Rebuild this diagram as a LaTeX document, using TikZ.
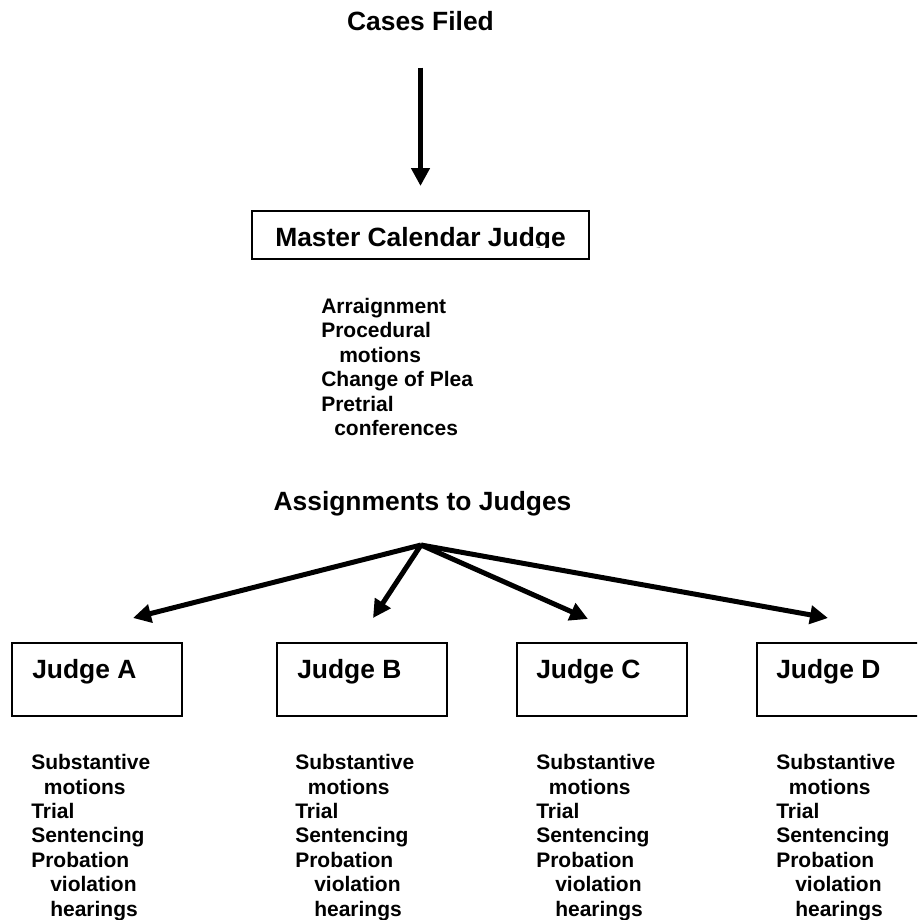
\documentclass[tikz,border=0pt]{standalone}
\usepackage{fontspec}
\setmainfont{Liberation Sans}
\usetikzlibrary{arrows.meta,positioning,calc}

\newcommand{\judgeduties}{Substantive\\\hspace*{9.5pt}motions\\Trial\\Sentencing\\Probation\\\hspace*{14.25pt}violation\\\hspace*{14.25pt}hearings}

\tikzset{
  heading/.style={font=\fontsize{19.8}{23}\selectfont\bfseries, inner sep=0pt},
  duties/.style={font=\fontsize{15.75}{18.3}\selectfont\bfseries, align=left, inner sep=0pt, anchor=base west},
  judgebox/.style={rectangle, draw, line width=1.5pt, minimum width=127.5pt, minimum height=54.75pt, inner sep=0pt},
  flow/.style={->, line width=3.75pt},
}

\begin{document}
\begin{tikzpicture}[x=0.75pt, y=-0.75pt, >={Triangle[length=13.5pt, width=13.5pt]}]
    \useasboundingbox (0,0) rectangle (917,920);
    \clip (0,0) rectangle (917,920);

    % Intake
    \node[heading, anchor=base] (filed) at (420.5,31) {Cases Filed};
    \node[rectangle, draw, line width=1.5pt, minimum width=252.75pt, minimum height=36pt] (master) at (420.5,235) {};
    \begin{scope}
        \clip (master.north west) rectangle ($(master.east)+(0,12)$);
        \node[heading, anchor=base] (mastertext) at (420.5,246) {Master Calendar Judge};
    \end{scope}
    % base of a multi-line node is its last line
    \node[duties] (mastertasks) at (321,435.5) {Arraignment\\Procedural\\\hspace*{13.5pt}motions\\Change of Plea\\Pretrial\\\hspace*{9.75pt}conferences};

    % Assignment
    \node[heading, anchor=base] (assign) at (422.5,510) {Assignments to Judges};
    \coordinate (hub) at (421,545);

    % Trial judges
    \node[judgebox] (judgeA) at (97,679.5) {};
    \node[judgebox] (judgeB) at (362,679.5) {};
    \node[judgebox] (judgeC) at (602,679.5) {};
    \node[judgebox] (judgeD) at (842,679.5) {};

    \node[heading, anchor=base west] (labelA) at ($(judgeA.north west)+(21,36)$) {Judge A};
    \node[heading, anchor=base west] (labelB) at ($(judgeB.north west)+(21,36)$) {Judge B};
    \node[heading, anchor=base west] (labelC) at ($(judgeC.north west)+(20,36)$) {Judge C};
    \node[heading, anchor=base west] (labelD) at ($(judgeD.north west)+(20,36)$) {Judge D};

    \node[duties] (dutiesA) at ($(judgeA.south west)+(20,199)$) {\judgeduties};
    \node[duties] (dutiesB) at ($(judgeB.south west)+(19,199)$) {\judgeduties};
    \node[duties] (dutiesC) at ($(judgeC.south west)+(20,199)$) {\judgeduties};
    \node[duties] (dutiesD) at ($(judgeD.south west)+(20,199)$) {\judgeduties};

    % Arrow ends
    \coordinate (tipA) at (133,618);
    \coordinate (tipB) at (373,618);
    \coordinate (tipC) at (588,619);
    \coordinate (tipD) at (828,618);

    % Arrows
    \draw[flow, shorten <=27pt, shorten >=18pt] (filed) -- (master);
    \draw[flow] (hub) -- (tipA);
    \draw[flow] (hub) -- (tipB);
    \draw[flow] (hub) -- (tipC);
    \draw[flow] (hub) -- (tipD);
\end{tikzpicture}
\end{document}
